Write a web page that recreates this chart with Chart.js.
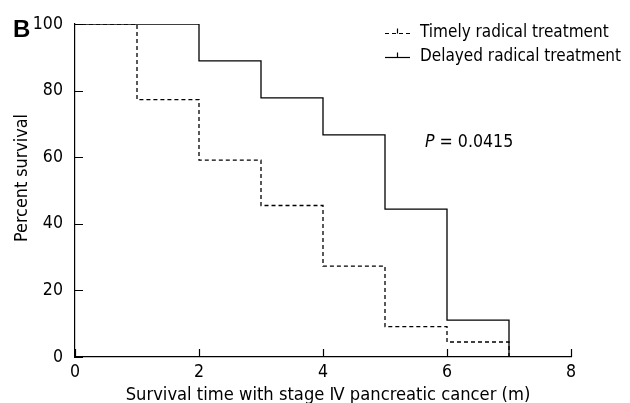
<!DOCTYPE html>
<html>
<head>
<meta charset="utf-8">
<script src="https://cdn.jsdelivr.net/npm/chart.js@4"></script>
<style>
  html, body { margin: 0; padding: 0; background: #fff; }
  #wrap { width: 630px; height: 403px; position: relative; }
</style>
</head>
<body>
<div id="wrap"><canvas id="km"></canvas></div>
<script>
// Kaplan-Meier data (months, % survival)
const timelyMonths  = [0, 1, 2, 3, 4, 5, 6, 7];
const timelySurv    = [100, 77.3, 59.1, 45.5, 27.3, 9.1, 4.5, 0];
const delayedMonths = [0, 2, 3, 4, 5, 6, 7];
const delayedSurv   = [100, 88.9, 77.8, 66.7, 44.4, 11.1, 0];

const seriesNames = ['Timely radical treatment', 'Delayed radical treatment'];
const xTicks = [0, 2, 4, 6, 8];
const yTicks = [0, 20, 40, 60, 80, 100];
const xTitle = 'Survival time with stage Ⅳ pancreatic cancer (m)';
const yTitle = 'Percent survival';
const pText = '= 0.0415';

const FONT = "'DejaVu Sans Condensed', 'DejaVu Sans', sans-serif";
const INK = '#000';

const toPoints = (xs, ys) => xs.map((x, i) => ({ x: x, y: ys[i] }));

// inward ticks, axis titles, legend, panel letter and P value
const extras = {
    id: 'extras',
    afterDraw(chart) {
        const ctx = chart.ctx;
        const xs = chart.scales.x, ys = chart.scales.y;
        const a = chart.chartArea;
        ctx.save();
        ctx.strokeStyle = INK;
        ctx.lineWidth = 1.2;
        ctx.beginPath();
        yTicks.forEach(v => {
            const py = Math.round(ys.getPixelForValue(v)) + 0.5;
            ctx.moveTo(a.left, py); ctx.lineTo(a.left + 8, py);
        });
        xTicks.forEach(v => {
            const px = Math.round(xs.getPixelForValue(v)) + 0.5;
            ctx.moveTo(px, a.bottom); ctx.lineTo(px, a.bottom - 8);
        });
        ctx.stroke();

        ctx.fillStyle = INK;
        ctx.textBaseline = 'middle';

        // axis titles
        ctx.font = '18.2px ' + FONT;
        ctx.textAlign = 'center';
        ctx.fillText(xTitle, 328, 395);
        ctx.save();
        ctx.translate(22, 178);
        ctx.rotate(-Math.PI / 2);
        ctx.font = '17.8px ' + FONT;
        ctx.fillText(yTitle, 0, 0);
        ctx.restore();

        // legend
        const lx = 385, rows = [33, 57];
        chart.data.datasets.forEach((ds, i) => {
            const y = rows[i] + 0.5;
            ctx.setLineDash(ds.borderDash || []);
            ctx.lineWidth = 1.2;
            ctx.beginPath();
            ctx.moveTo(lx, y); ctx.lineTo(lx + 25, y);
            ctx.stroke();
            ctx.setLineDash([]);
            ctx.beginPath();
            ctx.moveTo(lx + 12.5, y); ctx.lineTo(lx + 12.5, y - 5);
            ctx.stroke();
            ctx.font = '17px ' + FONT;
            ctx.textAlign = 'left';
            ctx.fillText(ds.label, 420, rows[i]);
        });

        // panel letter
        ctx.font = "bold 24px 'Liberation Sans', Arial, sans-serif";
        ctx.textBaseline = 'alphabetic';
        ctx.fillText('B', 13, 37);

        // P value
        ctx.font = 'italic 17.6px ' + FONT;
        ctx.textBaseline = 'middle';
        ctx.fillText('P', 425, 142);
        const pw = ctx.measureText('P ').width;
        ctx.font = '17.6px ' + FONT;
        ctx.fillText(pText, 425 + pw, 142);
        ctx.restore();
    }
};

new Chart(document.getElementById('km'), {
    type: 'line',
    data: {
        datasets: [{
            label: seriesNames[0],
            data: toPoints(timelyMonths, timelySurv),
            stepped: 'before',
            borderColor: INK,
            borderWidth: 1.3,
            borderDash: [4, 3],
            pointRadius: 0,
            fill: false
        }, {
            label: seriesNames[1],
            data: toPoints(delayedMonths, delayedSurv),
            stepped: 'before',
            borderColor: INK,
            borderWidth: 1.3,
            pointRadius: 0,
            fill: false
        }]
    },
    options: {
        responsive: true,
        maintainAspectRatio: false,
        animation: false,
        layout: { padding: { left: 0, top: 24, right: 59, bottom: 0 } },
        plugins: {
            legend: { display: false },
            tooltip: { enabled: false }
        },
        scales: {
            x: {
                type: 'linear',
                min: 0, max: 8,
                afterBuildTicks: s => { s.ticks = xTicks.map(v => ({ value: v })); },
                afterFit: s => { s.height = 46; },
                grid: { display: false, drawTicks: false },
                border: { display: true, color: INK, width: 1.2 },
                ticks: { color: INK, padding: 5, font: { family: FONT, size: 17.6 }, maxRotation: 0 },
                title: { display: false }
            },
            y: {
                type: 'linear',
                min: 0, max: 100,
                afterBuildTicks: s => { s.ticks = yTicks.map(v => ({ value: v })); },
                afterFit: s => { s.width = 75; },
                grid: { display: false, drawTicks: false },
                border: { display: true, color: INK, width: 1.2 },
                ticks: { color: INK, padding: 12, font: { family: FONT, size: 17.6 } },
                title: { display: false }
            }
        }
    },
    plugins: [extras]
});
</script>
</body>
</html>
